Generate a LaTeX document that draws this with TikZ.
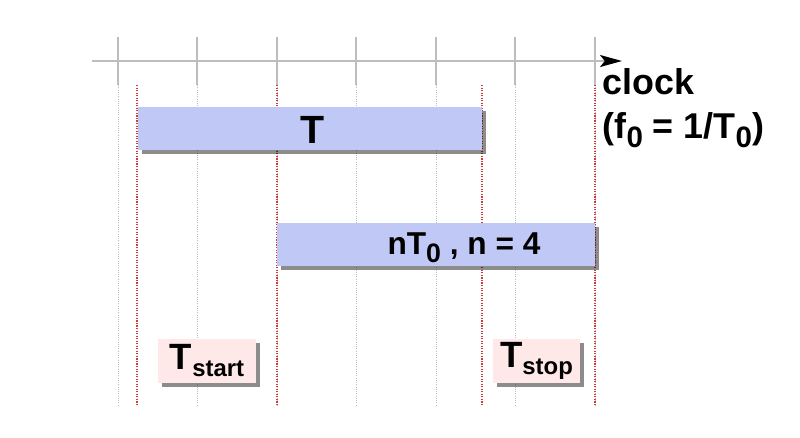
\documentclass[tikz,border=0pt]{standalone}
\usepackage{fontspec}
\setmainfont{Liberation Sans}
\usetikzlibrary{arrows.meta,shadows}
\definecolor{BarBlue}{HTML}{C0C8F5}
\definecolor{StampPink}{HTML}{FFE8E8}
\definecolor{GridGray}{HTML}{BDBDBD}
\definecolor{EdgeRed}{HTML}{D23A3A}
\newcommand{\lowidx}[3]{\raisebox{#1}{\fontsize{#2}{#2}\selectfont #3}}

\begin{document}
\begin{tikzpicture}[x=0.025cm,y=-0.025cm,
    shade box/.style={inner sep=0pt,
      drop shadow={shadow xshift=0.11cm,shadow yshift=-0.11cm,fill=black,opacity=0.45}},
    bar/.style={shade box,fill=BarBlue},
    stamp/.style={shade box,fill=StampPink,minimum height=1.1cm}]
    \useasboundingbox (0,0) rectangle (800,437);
    \coordinate (axisL) at (92,61);
    \coordinate (axisR) at (622,61);
    \foreach \x in {118,197,277,356,436,515,595}{
      \draw[GridGray,line width=1.1pt] (\x,37) -- (\x,85);
      \draw[GridGray,line width=0.6pt,densely dotted] (\x,85) -- (\x,405);
    }
    \foreach \x in {137,277,482,595}
      \draw[EdgeRed,line width=0.8pt,densely dotted] (\x,85) -- (\x,405);
    \draw[GridGray,line width=1.1pt,-{Stealth[length=0.55cm,width=0.3cm,inset=0.12cm,color=black]}] (axisL) -- (axisR);
    \node[font=\bfseries\fontsize{25.5}{30}\selectfont,anchor=base west,inner sep=1pt] (clkA) at (601,94) {clock};
    \node[font=\bfseries\fontsize{25.5}{30}\selectfont,anchor=base west,inner sep=1pt] (clkB) at (601,138)
      {(f\lowidx{-6.5pt}{21}{0} = 1/T\lowidx{-6.5pt}{21}{0})};
    \node[bar,minimum width=8.6cm,minimum height=1.075cm] (barT) at (310,128.5) {};
    \node[font=\bfseries\fontsize{28}{32}\selectfont] (barTtext) at (313,130) {T};
    \node[bar,minimum width=7.95cm,minimum height=1.075cm] (barN) at (436,244.5) {};
    \node[font=\bfseries\fontsize{22.5}{26}\selectfont] (barNtext) at (464,248)
      {nT\lowidx{-6pt}{19}{0} , n = 4};
    \node[stamp,minimum width=2.45cm,font=\bfseries\fontsize{26}{30}\selectfont] (start) at (207,361)
      {T\lowidx{-5pt}{17}{start}};
    \node[stamp,minimum width=2.175cm,font=\bfseries\fontsize{26}{30}\selectfont] (stop) at (536.5,361)
      {T\lowidx{-5pt}{17}{stop}};
\end{tikzpicture}
\end{document}
